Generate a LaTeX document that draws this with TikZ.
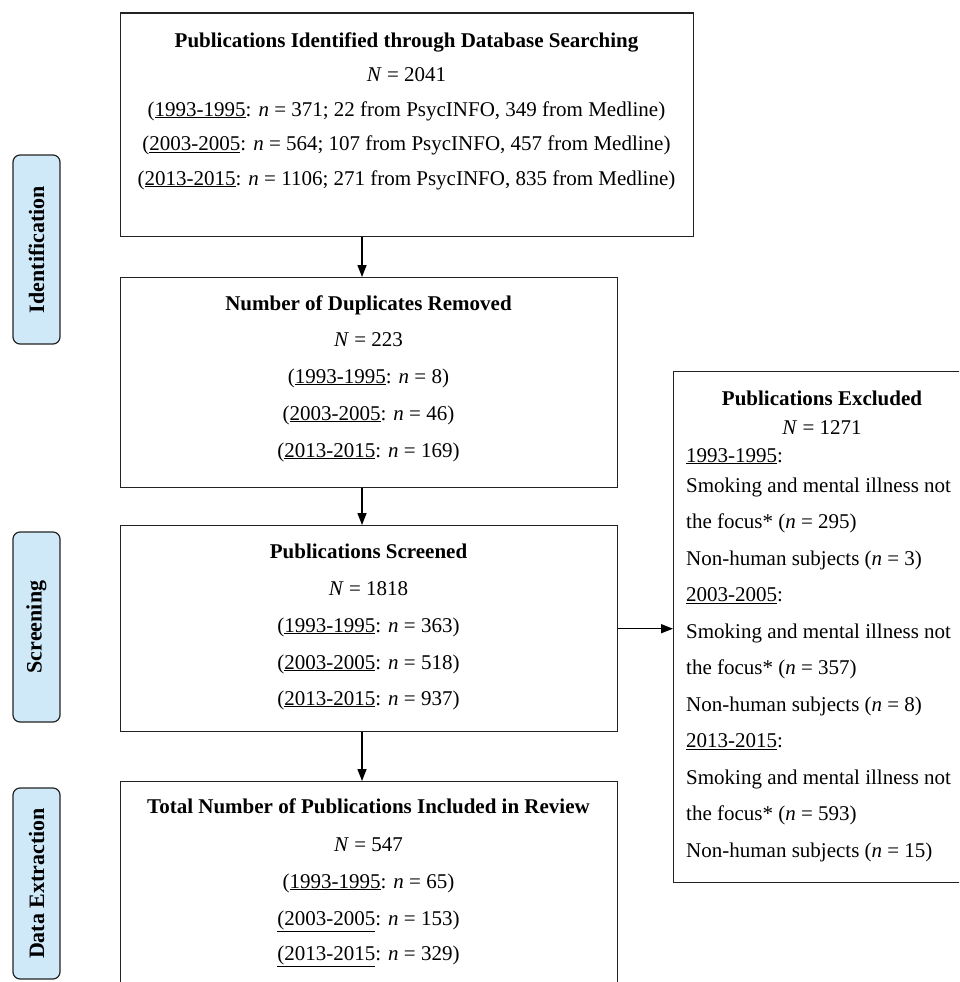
\documentclass[tikz,border=0pt]{standalone}
\usepackage{fontspec}
\setmainfont{Liberation Serif}
\usetikzlibrary{arrows.meta}
\definecolor{sidefill}{RGB}{207,233,249}
\definecolor{edgecol}{RGB}{35,35,35}
\newcommand\uyr[1]{\underline{#1}}
\begin{document}
\begin{tikzpicture}[x=1pt,y=-1pt,
  font=\fontsize{21pt}{25pt}\selectfont,
  box/.style={draw=edgecol, line width=1.4pt, rectangle, inner sep=0pt, anchor=north west},
  side/.style={draw=edgecol, line width=1.2pt, fill=sidefill, rounded corners=7pt, inner sep=0pt, rotate=90, font=\fontsize{22pt}{26pt}\selectfont\bfseries},
  txt/.style={anchor=base, inner sep=0pt},
  ltxt/.style={anchor=base west, inner sep=0pt},
  arr/.style={draw=black, line width=1.4pt, -{Triangle[width=9pt,length=12pt]}}]
\useasboundingbox (0,0) rectangle (959,982);
\clip (0,0) rectangle (959,982);

% side labels
\node[side, minimum width=189pt, minimum height=47pt] (sid) at (36.5,249.5) {Identification};
\node[side, minimum width=190pt, minimum height=47pt] (sscr) at (36.5,627) {Screening};
\node[side, minimum width=191pt, minimum height=47pt] (sdat) at (36.5,883.5) {Data Extraction};

% boxes
\node[box, minimum width=573pt, minimum height=223.5pt] (b1) at (120,12.5) {};
\node[box, minimum width=497pt, minimum height=210pt] (b2) at (120,277) {};
\node[box, minimum width=497pt, minimum height=206pt] (b3) at (120,525) {};
\node[box, minimum width=497pt, minimum height=260pt] (b4) at (120,781) {};
\node[box, minimum width=298pt, minimum height=511pt] (ex) at (673,371) {};

% box 1 text
\node[txt] (t1a) at (406.5,47.5) {\textbf{Publications Identified through Database Searching}};
\node[txt] (t1b) at (406.5,81.5) {\textit{N} = 2041};
\node[txt] (t1c) at (406.5,116) {(\uyr{1993-1995}: \textit{n} = 371; 22 from PsycINFO, 349 from Medline)};
\node[txt] (t1d) at (406.5,150.5) {(\uyr{2003-2005}: \textit{n} = 564; 107 from PsycINFO, 457 from Medline)};
\node[txt] (t1e) at (406.5,185) {(\uyr{2013-2015}: \textit{n} = 1106; 271 from PsycINFO, 835 from Medline)};

% box 2 text
\node[txt] (t2a) at (368.5,310) {\textbf{Number of Duplicates Removed}};
\node[txt] (t2b) at (368.5,346) {\textit{N} = 223};
\node[txt] (t2c) at (368.5,383) {(\uyr{1993-1995}: \textit{n} = 8)};
\node[txt] (t2d) at (368.5,420) {(\uyr{2003-2005}: \textit{n} = 46)};
\node[txt] (t2e) at (368.5,457) {(\uyr{2013-2015}: \textit{n} = 169)};

% box 3 text
\node[txt] (t3a) at (368.5,558) {\textbf{Publications Screened}};
\node[txt] (t3b) at (368.5,595) {\textit{N} = 1818};
\node[txt] (t3c) at (368.5,632) {(\uyr{1993-1995}: \textit{n} = 363)};
\node[txt] (t3d) at (368.5,669) {(\uyr{2003-2005}: \textit{n} = 518)};
\node[txt] (t3e) at (368.5,705) {(\uyr{2013-2015}: \textit{n} = 937)};

% box 4 text
\node[txt] (t4a) at (368.5,813) {\textbf{Total Number of Publications Included in Review}};
\node[txt] (t4b) at (368.5,851) {\textit{N} = 547};
\node[txt] (t4c) at (368.5,888) {(\uyr{1993-1995}: \textit{n} = 65)};
\node[txt] (t4d) at (368.5,925) {\uyr{(2003-2005}: \textit{n} = 153)};
\node[txt] (t4e) at (368.5,960) {\uyr{(2013-2015}: \textit{n} = 329)};

% excluded box text
\node[txt] (e1) at (822,405) {\textbf{Publications Excluded}};
\node[txt] (e2) at (822,434) {\textit{N} = 1271};
\node[ltxt] (e3) at (686,462) {\uyr{1993-1995}:};
\node[ltxt] (e4) at (686,492) {Smoking and mental illness not};
\node[ltxt] (e5) at (686,528.5) {the focus* (\textit{n} = 295)};
\node[ltxt] (e6) at (686,565) {Non-human subjects (\textit{n} = 3)};
\node[ltxt] (e7) at (686,601.5) {\uyr{2003-2005}:};
\node[ltxt] (e8) at (686,638) {Smoking and mental illness not};
\node[ltxt] (e9) at (686,674.5) {the focus* (\textit{n} = 357)};
\node[ltxt] (e10) at (686,711) {Non-human subjects (\textit{n} = 8)};
\node[ltxt] (e11) at (686,747.5) {\uyr{2013-2015}:};
\node[ltxt] (e12) at (686,784) {Smoking and mental illness not};
\node[ltxt] (e13) at (686,820.5) {the focus* (\textit{n} = 593)};
\node[ltxt] (e14) at (686,857) {Non-human subjects (\textit{n} = 15)};

% connectors
\coordinate (ax) at (362,0);
\draw[arr] (b1.south -| ax) -- (b2.north -| ax);
\draw[arr] (b2.south -| ax) -- (b3.north -| ax);
\draw[arr] (b3.south -| ax) -- (b4.north -| ax);
\draw[arr] (b3.east) -- (b3.east -| ex.west);
\end{tikzpicture}
\end{document}
